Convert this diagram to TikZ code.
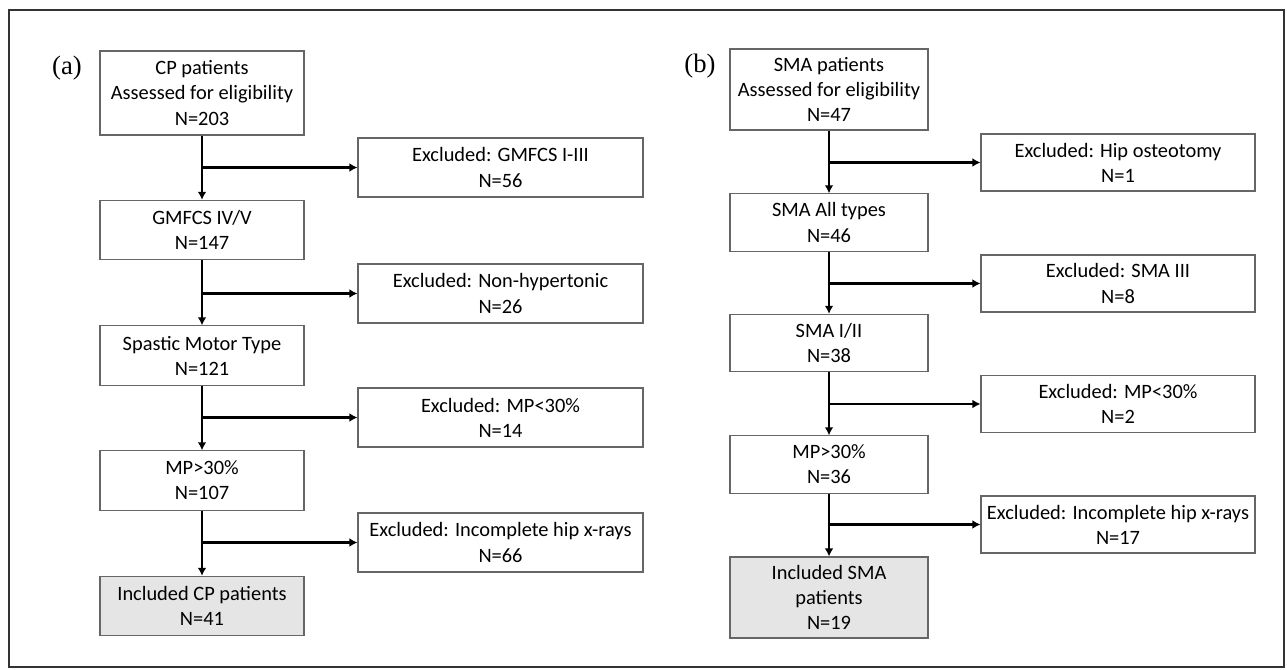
\documentclass[tikz,border=0pt]{standalone}
\usepackage{fontspec}
\setmainfont{Carlito}
\newfontfamily\panelfont{Liberation Serif}
\usetikzlibrary{arrows.meta}

\begin{document}
\begin{tikzpicture}[x=0.75pt,y=-0.75pt,
    stage/.style={draw=gray!80!black, line width=0.8pt, fill=white, align=center,
        inner sep=0pt, font=\fontsize{15.3}{18.8}\selectfont},
    cpbox/.style={stage, minimum width=153pt, minimum height=44.5pt},
    cpout/.style={stage, minimum width=213.75pt, minimum height=44.25pt},
    smabox/.style={stage, minimum width=148.5pt, minimum height=43pt},
    smaout/.style={stage, minimum width=205.5pt, minimum height=42.75pt},
    final/.style={fill=gray!20},
    flow/.style={draw=black, line width=2.1pt, -{Latex[length=6pt,width=6.5pt]}},
    panel/.style={font=\panelfont\fontsize{20}{24}\selectfont, inner sep=0pt}]
\useasboundingbox (0,0) rectangle (1287,670);
\draw[line width=1.1pt, black!80] (9,10) rectangle (1284,667);

% (a) CP patients
\node[panel] (pa) at (67,68) {(a)};
\node[cpbox, minimum height=63pt] (cp1) at (202,93) {CP patients\\Assessed for eligibility\\N=203};
\node[cpbox] (cp2) at (202,230) {GMFCS IV/V\\N=147};
\node[cpbox] (cp3) at (202,355.5) {Spastic Motor Type\\N=121};
\node[cpbox] (cp4) at (202,480.5) {MP>30\%\\N=107};
\node[cpbox, final] (cp5) at (202,606) {Included CP patients\\N=41};
\node[cpout] (cx1) at (500.5,167.5) {Excluded: GMFCS I-III\\N=56};
\node[cpout] (cx2) at (500.5,293.5) {Excluded: Non-hypertonic\\N=26};
\node[cpout] (cx3) at (500.5,417.5) {Excluded: MP<30\%\\N=14};
\node[cpout] (cx4) at (500.5,542.5) {Excluded: Incomplete hip x-rays\\N=66};

\draw[flow] (cp1) -- (cp2);
\draw[flow] (cp2) -- (cp3);
\draw[flow] (cp3) -- (cp4);
\draw[flow] (cp4) -- (cp5);
\coordinate (cj1) at (cp1.south |- cx1.west);
\coordinate (cj2) at (cp2.south |- cx2.west);
\coordinate (cj3) at (cp3.south |- cx3.west);
\coordinate (cj4) at (cp4.south |- cx4.west);
\draw[flow] (cj1) -- (cx1);
\draw[flow] (cj2) -- (cx2);
\draw[flow] (cj3) -- (cx3);
\draw[flow] (cj4) -- (cx4);

% (b) SMA patients
\node[panel] (pb) at (700,66) {(b)};
\node[smabox, minimum height=60.75pt] (sm1) at (829,89.5) {SMA patients\\Assessed for eligibility\\N=47};
\node[smabox] (sm2) at (829,222.5) {SMA All types\\N=46};
\node[smabox] (sm3) at (829,343) {SMA I/II\\N=38};
\node[smabox] (sm4) at (829,464.5) {MP>30\%\\N=36};
\node[smabox, final, minimum height=60.75pt] (sm5) at (829,597.5) {Included SMA\\patients\\N=19};
\node[smaout] (sx1) at (1118,162.5) {Excluded: Hip osteotomy\\N=1};
\node[smaout] (sx2) at (1118,283.5) {Excluded: SMA III\\N=8};
\node[smaout] (sx3) at (1118,404) {Excluded: MP<30\%\\N=2};
\node[smaout] (sx4) at (1118,524.5) {Excluded: Incomplete hip x-rays\\N=17};

\draw[flow] (sm1) -- (sm2);
\draw[flow] (sm2) -- (sm3);
\draw[flow] (sm3) -- (sm4);
\draw[flow] (sm4) -- (sm5);
\coordinate (sj1) at (sm1.south |- sx1.west);
\coordinate (sj2) at (sm2.south |- sx2.west);
\coordinate (sj3) at (sm3.south |- sx3.west);
\coordinate (sj4) at (sm4.south |- sx4.west);
\draw[flow] (sj1) -- (sx1);
\draw[flow] (sj2) -- (sx2);
\draw[flow] (sj3) -- (sx3);
\draw[flow] (sj4) -- (sx4);
\end{tikzpicture}
\end{document}
